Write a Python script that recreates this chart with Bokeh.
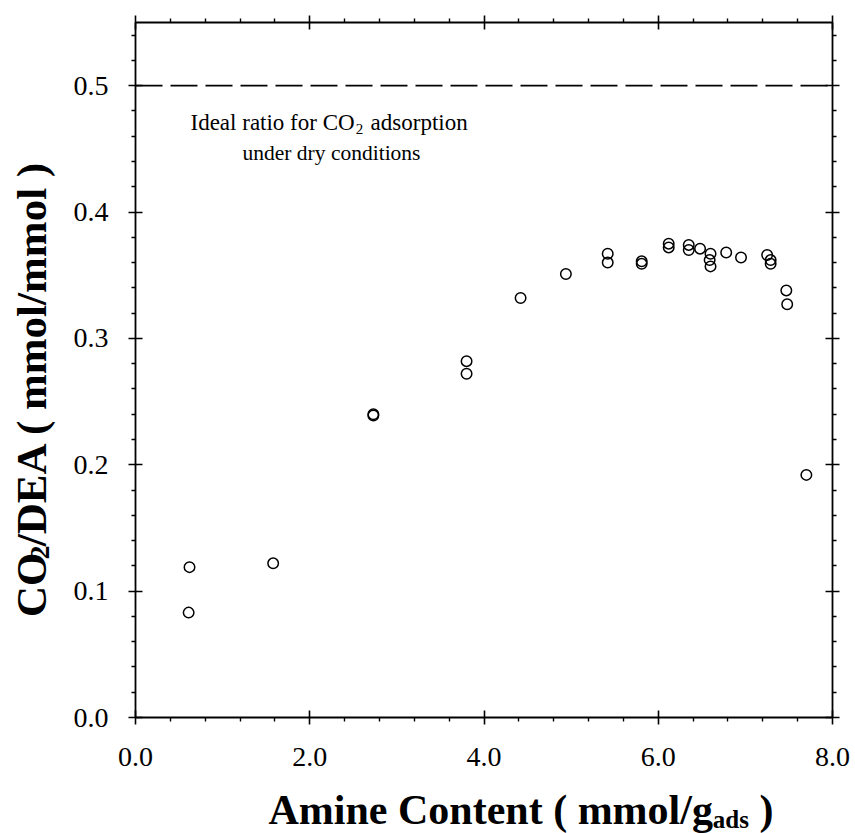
import math
from bokeh.plotting import figure
from bokeh.layouts import row, column
from bokeh.models import (Range1d, LinearAxis, FixedTicker, PrintfTickFormatter,
                          CustomJSTickFormatter, Span, Label)
from bokeh.core.properties import value
from bokeh.embed import file_html
from bokeh.resources import INLINE

# ---- data ----
amine_content = [0.62, 0.61, 1.58, 2.73, 2.73, 3.80, 3.80, 4.42, 4.94, 5.42, 5.42,
                 5.81, 5.81, 6.12, 6.12, 6.35, 6.35, 6.48, 6.60, 6.59, 6.60, 6.78,
                 6.95, 7.25, 7.29, 7.29, 7.47, 7.48, 7.70]
co2_dea_ratio = [0.119, 0.083, 0.122, 0.240, 0.239, 0.282, 0.272, 0.332, 0.351, 0.367, 0.360,
                 0.361, 0.359, 0.375, 0.372, 0.374, 0.370, 0.371, 0.367, 0.362, 0.357, 0.368,
                 0.364, 0.366, 0.362, 0.359, 0.338, 0.327, 0.192]
ideal_ratio = 0.5
x_major = [0.0, 2.0, 4.0, 6.0, 8.0]
y_major = [0.0, 0.1, 0.2, 0.3, 0.4, 0.5]
x_minor = [0.4 * i for i in range(21) if i % 5 != 0]
y_minor = [0.02 * i for i in range(28) if i % 5 != 0]

# ---- page layout (pixels) ----
W, H = 855, 833
LW = 60            # left strip for the y title
BH = 52            # bottom strip for the x title
MW, MH = W - LW, H - BH
FL, FR, FT, FB = 135, 832, 22, 717   # frame edges in page pixels
XMAX, YMAX = 8.0, 0.55

def px2x(px):
    return (px - FL) / (FR - FL) * XMAX

def px2y(py):
    return (FB - py) / (FB - FT) * YMAX

p = figure(width=MW, height=MH, x_range=Range1d(0, XMAX), y_range=Range1d(0, YMAX),
           output_backend="svg", toolbar_location=None,
           min_border_left=FL - LW, min_border_right=W - FR,
           min_border_top=FT, min_border_bottom=MH - FB)
p.grid.visible = False
p.outline_line_color = None
p.background_fill_color = "white"
p.border_fill_color = "white"

p.add_layout(LinearAxis(), "above")
p.add_layout(LinearAxis(), "right")

for ax in p.axis:
    ax.axis_line_color = "black"
    ax.axis_line_width = 1.8
    ax.major_tick_line_color = "black"
    ax.major_tick_line_width = 1.6
    ax.minor_tick_line_color = "black"
    ax.minor_tick_line_width = 1.4
    ax.major_tick_in = 7
    ax.major_tick_out = 7
    ax.minor_tick_in = 0
    ax.minor_tick_out = 4
    ax.major_label_text_font = "Liberation Serif"
    ax.major_label_text_font_size = "28px"
    ax.major_label_text_color = "black"

for ax in p.xaxis:
    ax.ticker = FixedTicker(ticks=x_major, minor_ticks=x_minor)
for ax in p.yaxis:
    ax.ticker = FixedTicker(ticks=y_major, minor_ticks=y_minor)

p.below[0].formatter = PrintfTickFormatter(format="%.1f")
p.below[0].major_label_standoff = 23
p.left[0].formatter = PrintfTickFormatter(format="%.1f")
p.left[0].major_label_standoff = 20
for ax in (p.above[0], p.right[0]):
    ax.formatter = CustomJSTickFormatter(code="return ''")
    ax.major_label_standoff = 0

# dashed ideal line
p.add_layout(Span(location=ideal_ratio, dimension="width", line_color="black",
                  line_width=1.8, line_dash="27 8"))

# data points
p.scatter(amine_content, co2_dea_ratio, marker="circle", size=10.5,
          fill_color=None, line_color="black", line_width=1.5)

def lab(text, px, py, size, align="left"):
    p.add_layout(Label(x=px2x(px), y=px2y(py), text=text,
                       text_font="Liberation Serif", text_font_style="normal",
                       text_font_size=f"{size}px", text_color="black",
                       text_align=align, text_baseline="alphabetic"))

# annotation text inside the frame
A1 = 23
xs = 190
wa = 7.139 * A1
lab("Ideal ratio for CO", xs, 122, A1, "left")
lab("2", xs + wa + 1, 128, 15, "left")
lab("adsorption", xs + wa + 1 + 8 + 0.3 * A1, 122, A1, "left")
lab("under dry conditions", 331, 152, 21.5, "center")

# ---- left strip: rotated y title ----
left = figure(width=LW, height=MH, x_range=Range1d(0, LW), y_range=Range1d(0, MH),
              output_backend="svg", toolbar_location=None, min_border=0,
              x_axis_location=None, y_axis_location=None)
left.grid.visible = False
left.outline_line_color = None
left.border_fill_color = "white"

FY, FYS = 43, 28
h1, hs = 1.5 * FY, 0.5 * FYS
ystart = 668
bx = 31
ang = math.pi / 2
left.text(x=[bx, bx + 8, bx],
          y=[MH - ystart, MH - (ystart - h1), MH - (ystart - h1 - hs - 1)],
          text=["CO", "2", "/DEA ( mmol/mmol )"], angle=ang,
          text_font=value("Liberation Serif"), text_font_style="bold",
          text_font_size=[f"{FY}px", f"{FYS}px", f"{FY}px"],
          text_align="left", text_baseline="alphabetic", text_color="black")

# ---- bottom strip: x title ----
bottom = figure(width=W, height=BH, x_range=Range1d(0, W), y_range=Range1d(0, BH),
                output_backend="svg", toolbar_location=None, min_border=0,
                x_axis_location=None, y_axis_location=None)
bottom.grid.visible = False
bottom.outline_line_color = None
bottom.border_fill_color = "white"

FX, FXS = 42, 25
w1, ws, wsp = 10.58 * FX, 1.445 * FXS, 0.25 * FX
x0 = 268
base = 809
bottom.text(x=[x0, x0 + w1, x0 + w1 + ws + wsp],
            y=[H - base, H - (base + 10), H - base],
            text=["Amine Content ( mmol/g", "ads", ")"],
            text_font=value("Liberation Serif"), text_font_style="bold",
            text_font_size=[f"{FX}px", f"{FXS}px", f"{FX}px"],
            text_align="left", text_baseline="alphabetic", text_color="black")

layout = column(row(left, p), bottom)
open("out.html", "w").write(file_html(layout, INLINE))
